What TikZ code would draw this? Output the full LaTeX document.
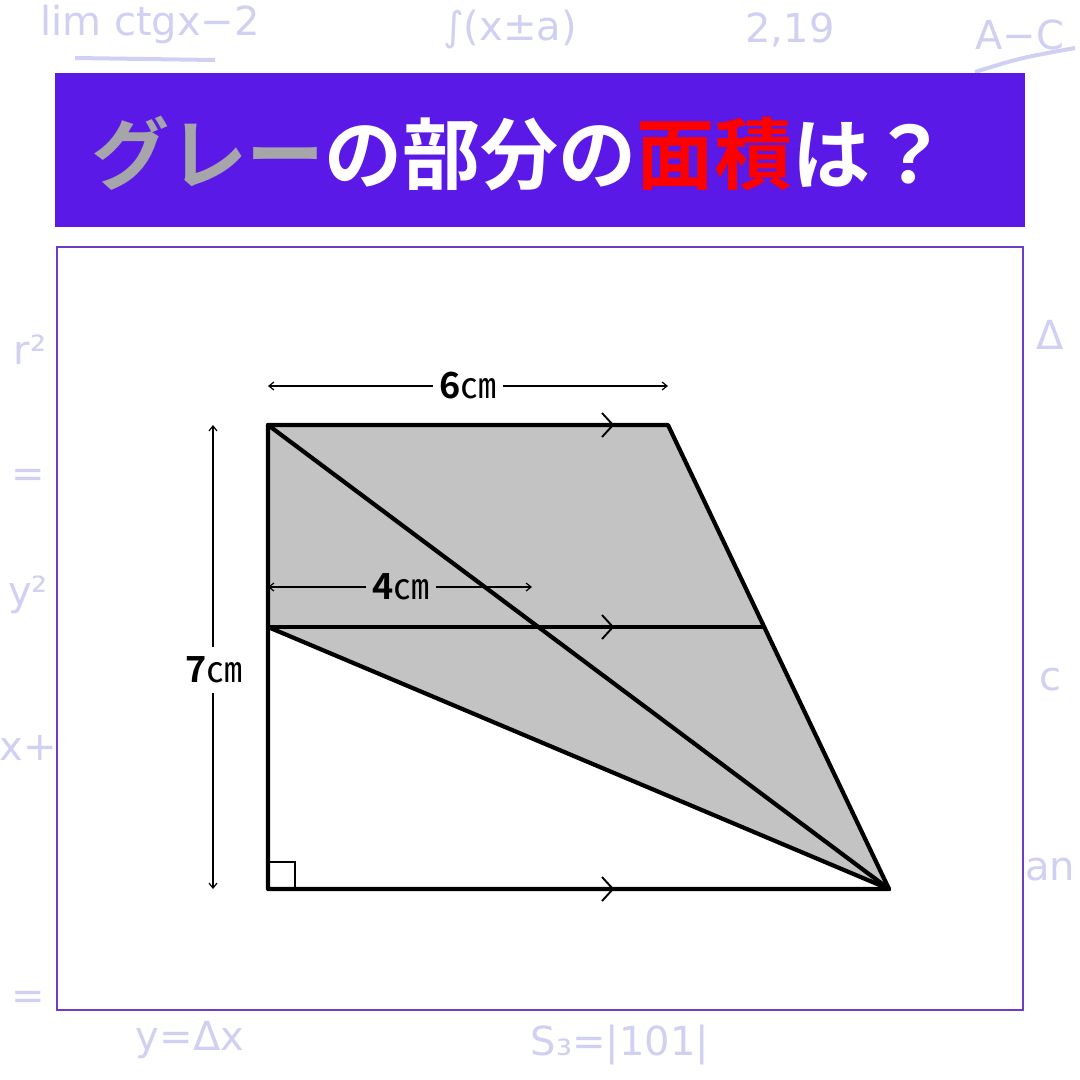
\documentclass[tikz,border=0pt]{standalone}
\usepackage{fontspec}
\setmainfont{Noto Sans CJK JP}[BoldFont=* Bold]
\newfontfamily\scribble{DejaVu Sans}
\usetikzlibrary{arrows.meta}

\definecolor{banner}{RGB}{91,25,232}
\definecolor{boxedge}{RGB}{112,60,196}
\definecolor{titlegrey}{RGB}{165,165,170}
\definecolor{titlered}{RGB}{255,0,0}
\definecolor{greyfill}{RGB}{195,195,195}
\definecolor{scrib}{RGB}{208,208,242}

\begin{document}
\begin{tikzpicture}[x=1pt,y=-1pt,
  fig/.style={line width=4.2pt,line join=round,line cap=round},
  dimline/.style={line width=1.2pt,-{Straight Barb[length=5pt,width=8pt]}},
  parmark/.style={line width=1.9pt},
  lab/.style={font=\fontsize{36}{36}\selectfont,inner sep=6pt},
  titletext/.style={font=\bfseries\fontsize{78}{78}\selectfont,text=white},
  doodle/.style={text=scrib,font=\scribble\fontsize{40}{40}\selectfont,inner sep=0pt}]
\useasboundingbox (0,0) rectangle (1080,1080);
\fill[white] (0,0) rectangle (1080,1080);

% faint scribbles behind
\node[doodle] at (150,24) {lim ctgx−2};
\draw[scrib,line width=4pt] (75,58) -- (215,60);
\node[doodle] at (510,30) {∫(x±a)};
\node[doodle] at (790,30) {2,19};
\node[doodle] at (1020,35) {A−C};
\draw[scrib,line width=4pt] (975,72) .. controls (1020,58) .. (1075,48);
\node[doodle] at (30,350) {r²};
\node[doodle] at (28,478) {=};
\node[doodle] at (28,595) {y²};
\node[doodle] at (28,748) {x+};
\node[doodle] at (28,1000) {=};
\node[doodle] at (1050,335) {Δ};
\node[doodle] at (1050,680) {c};
\node[doodle] at (1050,870) {an};
\node[doodle] at (190,1040) {y=Δx};
\node[doodle] at (620,1045) {S₃=|101|};

% title bar
\fill[banner] (55,73) rectangle (1025,227);
\node[titletext] (title) at (520,154)
  {{\color{titlegrey}グレー}の部分の{\color{titlered}面積}は？};

% white panel
\draw[boxedge,line width=1.6pt,fill=white] (57,247) rectangle (1023,1010);

% figure corners
\coordinate (A) at (268,425);
\coordinate (B) at (668,425);
\coordinate (C) at (889,889);
\coordinate (D) at (268,889);
\coordinate (M) at (268,627);
\coordinate (N) at (764,627);

\fill[greyfill] (A) -- (B) -- (C) -- (M) -- cycle;
\draw[fig] (A) -- (B) -- (C) -- (D) -- cycle;
\draw[fig] (M) -- (N);
\draw[fig] (A) -- (C);
\draw[fig] (M) -- (C);
\draw[line width=2pt] (268,862) -- (295,862) -- (295,889);
\foreach \y in {425,627,889}
  \draw[parmark] (602,\y-12) -- (613,\y) -- (602,\y+12);

% lengths
\node[lab] (six) at (468,386) {\textbf{6}㎝};
\coordinate (sixL) at (268,386);
\coordinate (sixR) at (668,386);
\draw[dimline] (six.west) -- (sixL);
\draw[dimline] (six.east) -- (sixR);

\node[lab] (four) at (401,587) {\textbf{4}㎝};
\coordinate (fourL) at (268,587);
\coordinate (fourR) at (532,587);
\draw[dimline] (four.west) -- (fourL);
\draw[dimline] (four.east) -- (fourR);

\node[lab,inner sep=10pt] (seven) at (214,670) {\textbf{7}㎝};
\coordinate (sevenT) at (213,425);
\coordinate (sevenB) at (213,889);
\draw[dimline] (seven.north -| sevenT) -- (sevenT);
\draw[dimline] (seven.south -| sevenB) -- (sevenB);
\end{tikzpicture}
\end{document}
